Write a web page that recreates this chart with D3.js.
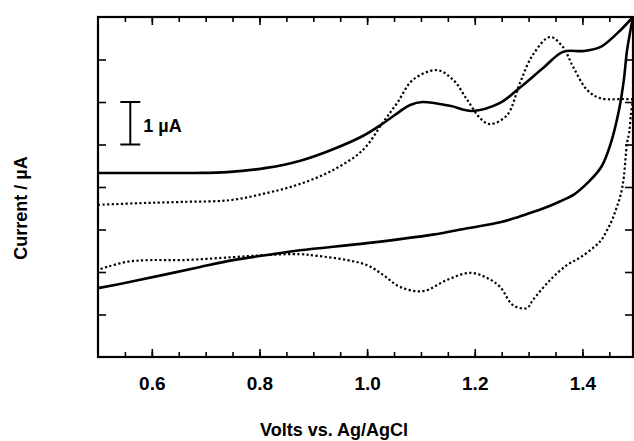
<!DOCTYPE html>
<html>
<head>
<meta charset="utf-8">
<script src="https://cdn.jsdelivr.net/npm/d3@7/dist/d3.min.js"></script>
<style>
  html, body { margin: 0; padding: 0; background: #fff; }
  svg { display: block; }
  text { font-family: "Liberation Sans", Arial, Helvetica, sans-serif; }
</style>
</head>
<body>
<div id="chart"></div>
<script>
// Cyclic voltammogram: two scans, solid and dotted.
// Current in uA with an arbitrary zero (axis carries no numbers).

var X_DOMAIN = [0.5, 1.494];
var Y_DOMAIN = [0, 8];

var majorTicks = [0.6, 0.8, 1.0, 1.2, 1.4];
var minorTicks = [0.55, 0.6, 0.65, 0.7, 0.75, 0.8, 0.85, 0.9, 0.95, 1.0,
  1.05, 1.1, 1.15, 1.2, 1.25, 1.3, 1.35, 1.4, 1.45];
var yTicks = [1, 2, 3, 4, 5, 6, 7];

// solid trace, anodic sweep (upper)
var solidFwdV = [0.50, 0.60, 0.680, 0.740, 0.813, 0.876, 0.931, 0.992, 1.030, 1.061,
  1.080, 1.103, 1.154, 1.195, 1.247, 1.283, 1.327, 1.364, 1.402, 1.433, 1.465, 1.494];
var solidFwdI = [4.33, 4.33, 4.33, 4.35, 4.45, 4.62, 4.86, 5.20, 5.50, 5.78,
  5.93, 6.00, 5.91, 5.79, 5.98, 6.33, 6.80, 7.18, 7.20, 7.29, 7.62, 8.00];

// solid trace, return sweep (lower)
var solidRevV = [1.494, 1.483, 1.477, 1.468, 1.453, 1.435, 1.409, 1.384, 1.358, 1.340,
  1.308, 1.280, 1.247, 1.186, 1.122, 1.000, 0.875, 0.814, 0.751, 0.690, 0.628, 0.565, 0.500];
var solidRevI = [8.00, 7.22, 6.52, 5.81, 5.04, 4.47, 4.09, 3.82, 3.66, 3.56,
  3.41, 3.29, 3.17, 3.03, 2.88, 2.68, 2.51, 2.40, 2.28, 2.12, 1.95, 1.78, 1.62];

// dotted trace, anodic sweep (upper)
var dotFwdV = [0.500, 0.578, 0.658, 0.745, 0.814, 0.875, 0.937, 0.992, 1.030, 1.056,
  1.085, 1.130, 1.160, 1.186, 1.210, 1.228, 1.260, 1.284, 1.308, 1.340,
  1.364, 1.383, 1.409, 1.433, 1.476, 1.494];
var dotFwdI = [3.58, 3.62, 3.65, 3.69, 3.86, 4.07, 4.40, 4.87, 5.53, 5.98,
  6.52, 6.75, 6.52, 6.05, 5.62, 5.48, 5.69, 6.45, 7.11, 7.53,
  7.29, 6.82, 6.28, 6.09, 6.07, 6.07];

// dotted trace, return sweep (lower)
var dotRevV = [1.494, 1.490, 1.487, 1.483, 1.477, 1.472, 1.464, 1.455, 1.446, 1.435,
  1.422, 1.397, 1.371, 1.340, 1.308, 1.297, 1.271, 1.247, 1.223, 1.191,
  1.148, 1.104, 1.061, 1.030, 1.000, 0.963, 0.907, 0.875, 0.814, 0.751,
  0.658, 0.597, 0.554, 0.517, 0.500];
var dotRevI = [6.07, 5.69, 5.29, 5.04, 4.24, 3.86, 3.53, 3.22, 2.99, 2.75,
  2.59, 2.35, 2.16, 1.81, 1.34, 1.15, 1.22, 1.65, 1.86, 1.98,
  1.81, 1.55, 1.65, 1.93, 2.16, 2.28, 2.38, 2.42, 2.40, 2.35,
  2.28, 2.28, 2.24, 2.12, 2.05];

// scale bar: 1 uA drawn at this potential
var scaleBarV = 0.56;
var scaleBarI = [5, 6];

var W = 634, H = 441;
var margin = { top: 17, right: 1, bottom: 84, left: 98 };

var svg = d3.select('#chart').append('svg')
  .attr('width', W)
  .attr('height', H);

var x = d3.scaleLinear().domain(X_DOMAIN).range([margin.left, W - margin.right]);
var y = d3.scaleLinear().domain(Y_DOMAIN).range([H - margin.bottom, margin.top]);

var fmt = d3.format('.1f');

function zip(vs, is) {
  return vs.map(function (v, i) { return [v, is[i]]; });
}

// ticks, all pointing inward
function addAxis(axis, tx, ty) {
  var a = svg.append('g')
    .attr('transform', 'translate(' + tx + ',' + ty + ')')
    .call(axis);
  a.select('.domain').remove();
  a.selectAll('line').attr('stroke', '#000').attr('stroke-width', 1.6);
  return a;
}

addAxis(d3.axisBottom(x).tickValues(minorTicks).tickSize(-5).tickFormat(''), 0, y(0));
addAxis(d3.axisTop(x).tickValues(minorTicks).tickSize(-5).tickFormat(''), 0, y(8));
addAxis(d3.axisTop(x).tickValues(majorTicks).tickSize(-8).tickFormat(''), 0, y(8));
var xb = addAxis(d3.axisBottom(x).tickValues(majorTicks).tickSize(-8)
  .tickPadding(20).tickFormat(fmt), 0, y(0));
xb.selectAll('text')
  .attr('fill', '#000')
  .attr('font-size', '19px')
  .attr('font-weight', 'bold')
  .attr('font-family', '"Liberation Sans", Arial, sans-serif');

addAxis(d3.axisLeft(y).tickValues(yTicks).tickSize(-8).tickFormat(''), x(X_DOMAIN[0]), 0);
addAxis(d3.axisRight(y).tickValues(yTicks).tickSize(-8).tickFormat(''), x(X_DOMAIN[1]), 0);

// frame
svg.append('rect')
  .attr('x', x(X_DOMAIN[0]))
  .attr('y', y(Y_DOMAIN[1]))
  .attr('width', x(X_DOMAIN[1]) - x(X_DOMAIN[0]))
  .attr('height', y(Y_DOMAIN[0]) - y(Y_DOMAIN[1]))
  .attr('fill', 'none')
  .attr('stroke', '#000')
  .attr('stroke-width', 2.2);

// traces
var line = d3.line()
  .x(function (d) { return x(d[0]); })
  .y(function (d) { return y(d[1]); })
  .curve(d3.curveCatmullRom.alpha(0.5));

[[solidFwdV, solidFwdI], [solidRevV, solidRevI]].forEach(function (s) {
  svg.append('path')
    .datum(zip(s[0], s[1]))
    .attr('d', line)
    .attr('fill', 'none')
    .attr('stroke', '#000')
    .attr('stroke-width', 2.6)
    .attr('stroke-linejoin', 'round');
});

[[dotFwdV, dotFwdI], [dotRevV, dotRevI]].forEach(function (s) {
  svg.append('path')
    .datum(zip(s[0], s[1]))
    .attr('d', line)
    .attr('fill', 'none')
    .attr('stroke', '#000')
    .attr('stroke-width', 2.2)
    .attr('stroke-dasharray', '2.2,2.4');
});

// 1 uA scale bar
var bx = x(scaleBarV);
var bar = svg.append('g').attr('stroke', '#000').attr('stroke-width', 2);
bar.append('line')
  .attr('x1', bx).attr('x2', bx)
  .attr('y1', y(scaleBarI[0])).attr('y2', y(scaleBarI[1]));
scaleBarI.forEach(function (v) {
  bar.append('line')
    .attr('x1', bx - 10).attr('x2', bx + 10)
    .attr('y1', y(v)).attr('y2', y(v));
});
svg.append('text')
  .attr('x', bx + 13)
  .attr('y', y((scaleBarI[0] + scaleBarI[1]) / 2) + 9)
  .attr('font-size', '18px')
  .attr('font-weight', 'bold')
  .text('1 \u00b5A');

// axis titles
svg.append('text')
  .attr('x', 334)
  .attr('y', 436)
  .attr('text-anchor', 'middle')
  .attr('font-size', '18px')
  .attr('font-weight', 'bold')
  .text('Volts vs. Ag/AgCl');

svg.append('text')
  .attr('transform', 'translate(27,208) rotate(-90)')
  .attr('text-anchor', 'middle')
  .attr('font-size', '18px')
  .attr('font-weight', 'bold')
  .text('Current / \u00b5A');
</script>
</body>
</html>
